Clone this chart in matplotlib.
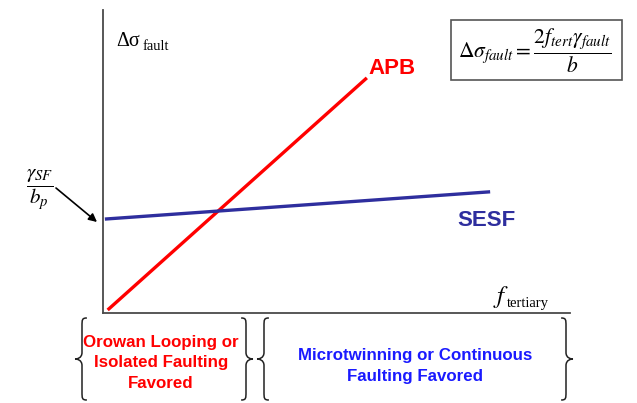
import matplotlib
matplotlib.use("Agg")
import matplotlib.pyplot as plt
from matplotlib.path import Path
from matplotlib.patches import PathPatch, Rectangle

plt.rcParams['mathtext.fontset'] = 'stix'

# data (axes fraction units: f_tertiary vs delta sigma)
apb_x = [0.01, 0.565]
apb_y = [0.01, 0.776]
sesf_x = [0.004, 0.829]
sesf_y = [0.31, 0.40]

line_labels = ["APB", "SESF"]
region_labels = ["Orowan Looping or\nIsolated Faulting\nFavored",
                 "Microtwinning or Continuous\nFaulting Favored"]

W, H = 637, 403
fig = plt.figure(figsize=(W/100, H/100), dpi=100)

# chart axes
ax = fig.add_axes([103/W, (H-313)/H, (570-103)/W, (313-10)/H])
ax.set_xlim(0, 1)
ax.set_ylim(0, 1)
for s in ['top', 'right']:
    ax.spines[s].set_visible(False)
for s in ['left', 'bottom']:
    ax.spines[s].set_color('#4a4a4a')
    ax.spines[s].set_linewidth(1.3)
ax.set_xticks([])
ax.set_yticks([])
ax.patch.set_alpha(0)

ax.plot(apb_x, apb_y, color='#ff0000', lw=2.4, solid_capstyle='butt')
ax.plot(sesf_x, sesf_y, color='#2e2e9e', lw=2.4, solid_capstyle='butt')

# overlay in pixel coordinates
ov = fig.add_axes([0, 0, 1, 1])
ov.set_xlim(0, W)
ov.set_ylim(H, 0)
ov.axis('off')
ov.patch.set_alpha(0)

sans = 'Liberation Sans'
serif = 'Liberation Serif'

ov.text(392, 68, line_labels[0], color='#ff0000', fontsize=16, fontweight='bold',
        family=sans, ha='center', va='center')
ov.text(486, 220, line_labels[1], color='#2e2e9e', fontsize=16, fontweight='bold',
        family=sans, ha='center', va='center')

# y-axis label
ov.text(116, 42, 'Δσ', fontsize=14.5, family=serif, ha='left', va='center')
ov.text(143, 47, 'fault', fontsize=10.5, family=serif, ha='left', va='center')

# x-axis label
ov.text(493, 297, r'$f$', fontsize=18, ha='left', va='center')
ov.text(507, 304, 'tertiary', fontsize=10.5, family=serif, ha='left', va='center')

# gamma_SF / b_p
ov.text(40, 190, r'$\dfrac{\gamma_{SF}}{b_p}$', fontsize=15, ha='center', va='center')
ov.annotate('', xy=(97, 222), xytext=(56, 188),
            arrowprops=dict(arrowstyle='-|>', color='black', lw=1.2,
                            mutation_scale=12, shrinkA=0, shrinkB=0))

# equation box
ov.add_patch(Rectangle((451, 20), 171, 60, fill=False, edgecolor='#555555', lw=1.2))
ov.text(535, 51, r'$\Delta\sigma_{fault} = \dfrac{2f_{tert}\gamma_{fault}}{b}$',
        fontsize=15.5, ha='center', va='center')

# braces
def brace(xtip, y0, y1, direction, w=7):
    # direction: +1 for '{' (tip on left, opens right), -1 for '}'
    d = direction
    xb = xtip + d * w
    xe = xb + d * w * 0.7
    ym = (y0 + y1) / 2
    h = y1 - y0
    verts = [
        (xe, y0),
        (xb, y0), (xb, y0 + 0.02 * h), (xb, y0 + 0.1 * h),
        (xb, ym - 0.08 * h),
        (xb, ym - 0.01 * h), (xtip + d * 2, ym), (xtip, ym),
        (xtip + d * 2, ym), (xb, ym + 0.01 * h), (xb, ym + 0.08 * h),
        (xb, y1 - 0.1 * h),
        (xb, y1 - 0.02 * h), (xb, y1), (xe, y1),
    ]
    codes = [Path.MOVETO,
             Path.CURVE4, Path.CURVE4, Path.CURVE4,
             Path.LINETO,
             Path.CURVE4, Path.CURVE4, Path.CURVE4,
             Path.CURVE4, Path.CURVE4, Path.CURVE4,
             Path.LINETO,
             Path.CURVE4, Path.CURVE4, Path.CURVE4]
    ov.add_patch(PathPatch(Path(verts, codes), fill=False, edgecolor='#222222', lw=1.1))

brace(75, 318, 400, +1)
brace(253, 318, 400, -1)
brace(257, 318, 400, +1)
brace(573, 318, 400, -1)

ov.text(161, 363, region_labels[0], color='#ff0000', fontsize=12.2, fontweight='bold',
        family=sans, ha='center', va='center', linespacing=1.5)
ov.text(415, 366, region_labels[1], color='#1a1aff', fontsize=12.2, fontweight='bold',
        family=sans, ha='center', va='center', linespacing=1.5)

fig.savefig('out.png', dpi=100)
